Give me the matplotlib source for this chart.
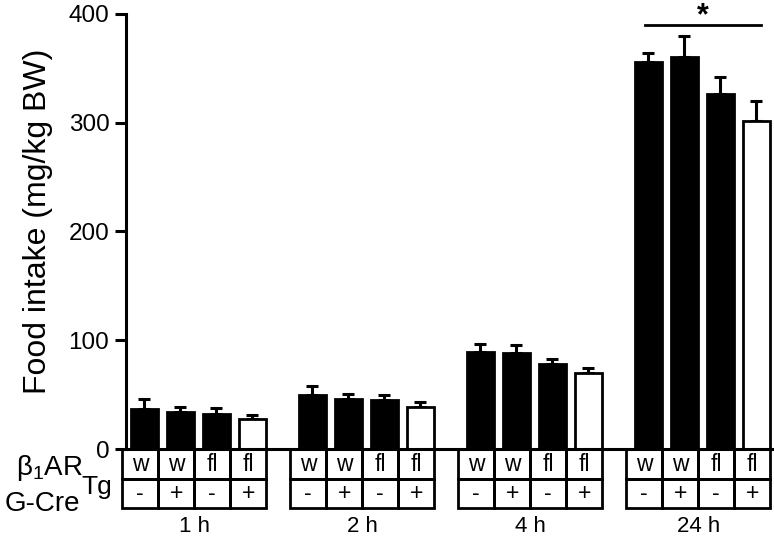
import matplotlib.pyplot as plt
from matplotlib.patches import Rectangle

plt.rcParams['font.family'] = ['Liberation Sans', 'DejaVu Sans']
plt.rcParams['mathtext.fontset'] = 'custom'
plt.rcParams['mathtext.rm'] = 'Liberation Sans'

# data
times = ['1 h', '2 h', '4 h', '24 h']
genotype = ['w', 'w', 'fl', 'fl']
cre = ['-', '+', '-', '+']
means = [[37, 34, 32.5, 28],
         [50, 46, 45, 39],
         [89.5, 88, 78, 69.5],
         [356, 360, 326, 302]]
sems = [[9, 5, 5.5, 3],
        [8, 5, 5, 4],
        [7, 7.5, 5, 5],
        [8, 20, 16, 18]]
colors = ['black', 'black', 'black', 'white']
yticks = [0, 100, 200, 300, 400]

group_step = 4.667
bar_w = 0.75

fig = plt.figure(figsize=(7.74, 5.39), dpi=100)
ax = fig.add_axes([126 / 774, (539 - 449) / 539, 648 / 774, 435 / 539])

for g, t in enumerate(times):
    xs = [g * group_step + i for i in range(4)]
    ax.bar(xs, means[g], width=bar_w, color=colors, edgecolor='black',
           linewidth=2, zorder=2)
    ax.errorbar(xs, means[g], yerr=[[0] * 4, sems[g]], fmt='none',
                ecolor='black', elinewidth=2.2, capsize=4.5, capthick=2.2,
                zorder=1)

ax.set_xlim(-0.514, 17.49)
ax.set_ylim(0, 400)
ax.set_yticks(yticks)
ax.tick_params(axis='y', length=8, width=2.2, labelsize=17.5, pad=4)
ax.set_xticks([])
for s in ['top', 'right']:
    ax.spines[s].set_visible(False)
ax.spines['left'].set_linewidth(2.2)
ax.spines['bottom'].set_linewidth(2.2)
ax.set_ylabel('Food intake (mg/kg BW)', fontsize=23)
ax.yaxis.set_label_coords(-0.112, 0.523)

# significance bar over 24 h
g4 = [3 * group_step + i for i in range(4)]
ax.plot([g4[0] - 0.1, g4[-1] + 0.12], [390, 390], color='black', lw=2,
        clip_on=False)
ax.text((g4[0] + g4[-1]) / 2, 391, '*', ha='center', va='baseline',
        fontsize=22, fontweight='bold', clip_on=False)

# genotype table under the axis
tab = fig.add_axes([126 / 774, (539 - 508) / 539, 648 / 774, 59 / 539])
tab.set_xlim(ax.get_xlim())
tab.set_ylim(0, 2)
tab.axis('off')
for g, t in enumerate(times):
    xs = [g * group_step + i - 0.12 for i in range(4)]
    for i, x in enumerate(xs):
        for row, label in [(1, genotype[i]), (0, cre[i])]:
            tab.add_patch(Rectangle((x - 0.5, row), 1, 1, fill=False,
                                    edgecolor='black', lw=2, clip_on=False))
            tab.text(x, row + 0.48, label, ha='center', va='center',
                     fontsize=16.5)
    fig.text((126 + (sum(xs) / 4 + 0.514) * 36) / 774, 1 - 527 / 539, t,
             ha='center', va='center', fontsize=16)

fig.text(83 / 774, 1 - 475 / 539, r'β$_{\mathregular{1}}$AR', ha='right',
         va='baseline', fontsize=20)
fig.text(80 / 774, 1 - 511 / 539, 'G-Cre', ha='right', va='baseline',
         fontsize=20)
fig.text(81 / 774, 1 - 494 / 539, 'Tg', ha='left', va='baseline',
         fontsize=19)

fig.savefig('out.png', dpi=100)
